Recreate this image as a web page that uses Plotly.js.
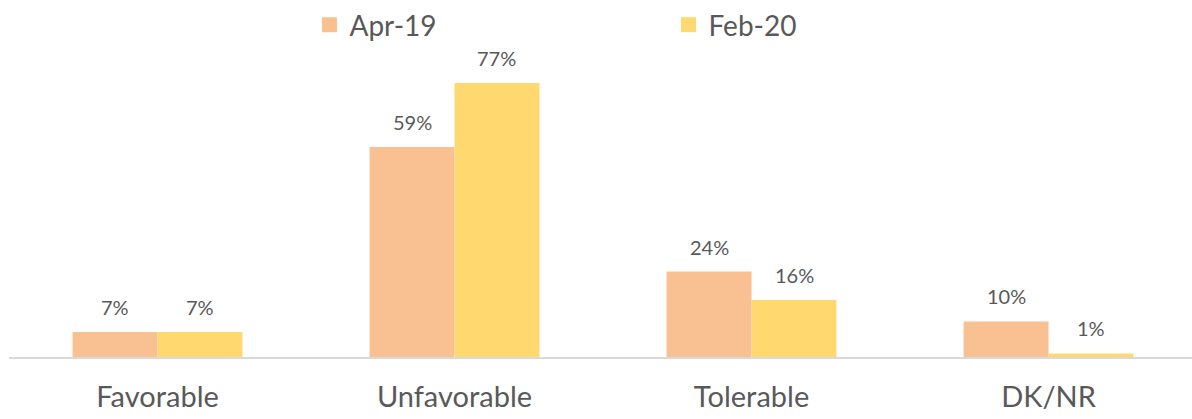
<!DOCTYPE html>
<html>
<head>
<meta charset="utf-8">
<script src="https://cdn.plot.ly/plotly-3.0.1.min.js"></script>
<style>html,body{margin:0;padding:0;background:#fff;}#chart{width:1192px;height:419px;}</style>
</head>
<body>
<div id="chart"></div>
<script>
const categories = ["Favorable", "Unfavorable", "Tolerable", "DK/NR"];
const seriesNames = ["Apr-19", "Feb-20"];
const apr19 = [7, 59, 24, 10];
const feb20 = [7, 77, 16, 1];
const colors = ["#F9C192", "#FFD970"];

const textColor = "#595959";
const fontFam = "Lato, 'Open Sans', sans-serif";

const traces = [];
[apr19, feb20].forEach((vals, i) => {
  traces.push({
    type: "bar",
    name: seriesNames[i],
    legendgroup: seriesNames[i],
    showlegend: false,
    x: categories,
    y: vals,
    marker: {color: colors[i], line: {width: 0}},
    hoverinfo: "skip"
  });
});
// legend entries (larger square keys)
[0, 1].forEach(i => {
  traces.push({
    type: "scatter", mode: "markers",
    name: seriesNames[i], legendgroup: seriesNames[i],
    x: [null], y: [null],
    marker: {symbol: "square", size: 15, color: colors[i]},
    hoverinfo: "skip", showlegend: true
  });
});

const plotW = 1192 - 9 - 0;
const catPx = plotW / (3.483 + 0.5);
const bargap = 0.428;
const barPx = catPx * (1 - bargap) / 2;

const annotations = [];
[apr19, feb20].forEach((vals, i) => {
  vals.forEach((v, j) => {
    annotations.push({
      x: categories[j], y: v, xref: "x", yref: "y",
      xshift: (i === 0 ? -1 : 1) * barPx / 2,
      yshift: 11,
      yanchor: "bottom", xanchor: "center",
      text: v + "%", showarrow: false,
      font: {family: fontFam, size: 20, color: textColor}
    });
  });
});

const layout = {
  width: 1192, height: 419,
  margin: {l: 9, r: 0, t: 40, b: 62, pad: 0, autoexpand: false},
  paper_bgcolor: "#fff", plot_bgcolor: "#fff",
  barmode: "group", bargap: bargap, bargroupgap: 0,
  font: {family: fontFam, color: textColor},
  xaxis: {
    type: "category", range: [-0.5, 3.483],
    showline: true, linecolor: "#D9D9D9", linewidth: 1.5,
    showgrid: false, zeroline: false, ticks: "",
    ticklabelstandoff: 14, automargin: false,
    tickfont: {family: fontFam, size: 29, color: textColor}
  },
  yaxis: {
    range: [0, 89.1], visible: false, showgrid: false, zeroline: false
  },
  showlegend: true,
  legend: {
    orientation: "h", x: 0.254, xanchor: "left",
    yref: "container", y: 1.0, yanchor: "top",
    entrywidth: 314, entrywidthmode: "pixels",
    font: {family: fontFam, size: 28, color: textColor},
    itemclick: false, itemdoubleclick: false
  },
  annotations: annotations
};

Plotly.newPlot("chart", traces, layout, {staticPlot: true, displayModeBar: false});
</script>
</body>
</html>
